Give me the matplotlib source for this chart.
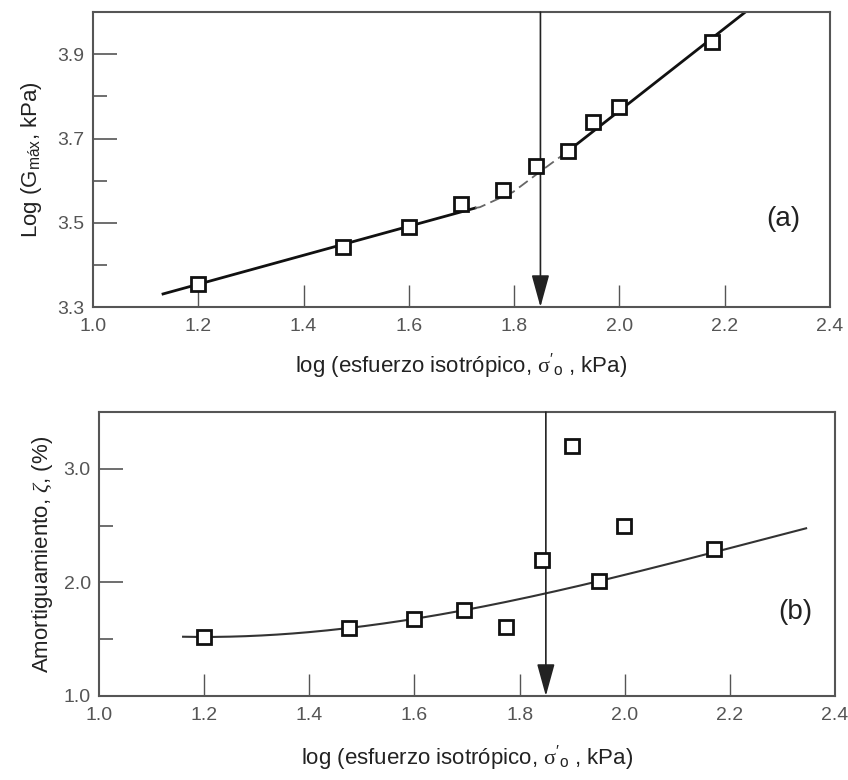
import numpy as np
import matplotlib
matplotlib.use('Agg')
import matplotlib.pyplot as plt

plt.rcParams['font.family'] = ['Liberation Sans', 'DejaVu Sans']
plt.rcParams['mathtext.fontset'] = 'custom'
plt.rcParams['mathtext.rm'] = 'Liberation Sans'
plt.rcParams['mathtext.sf'] = 'Liberation Serif'
plt.rcParams['mathtext.it'] = 'Liberation Serif:italic'

# Measured points (log of isotropic stress vs log Gmax and damping)
x_pts = [1.200, 1.475, 1.600, 1.700, 1.778, 1.842, 1.903, 1.950, 1.999, 2.175]
gmax_pts = [3.355, 3.443, 3.490, 3.545, 3.578, 3.635, 3.671, 3.739, 3.775, 3.930]
damp_x = [1.200, 1.475, 1.600, 1.695, 1.775, 1.842, 1.900, 1.951, 1.998, 2.170]
damp_pts = [1.52, 1.60, 1.68, 1.76, 1.61, 2.20, 3.20, 2.01, 2.50, 2.29]

# Trend lines for Gmax: two straight segments joined by a dashed transition
low_line_x = [1.133, 1.726]
low_line_y = [3.331, 3.535]
high_line_x = [1.893, 2.239]
high_line_y = [3.661, 4.000]
trans_x = [1.726, 1.735, 1.798, 1.849, 1.887, 1.893]
trans_y = [3.535, 3.537, 3.573, 3.621, 3.656, 3.661]

# Damping trend curve nodes
damp_curve_x = [1.16, 1.20, 1.30, 1.40, 1.50, 1.60, 1.70, 1.85, 1.95, 2.17, 2.345]
damp_curve_y = [1.52, 1.515, 1.535, 1.57, 1.62, 1.675, 1.75, 1.90, 2.01, 2.28, 2.47]

sigma_yield = 1.85

x_ticks = [1.0, 1.2, 1.4, 1.6, 1.8, 2.0, 2.2, 2.4]
g_ticks = [3.3, 3.5, 3.7, 3.9]
g_minor = [3.4, 3.6, 3.8]
d_ticks = [1.0, 2.0, 3.0]
d_minor = [1.5, 2.5]

frame_col = '#555555'
label_col = '#555555'
xlabel = r"log (esfuerzo isotrópico, $\mathsf{σ}'_{\rm o}$ , kPa)"


def style_axes(ax, ylim, yticks, yminor):
    ax.set_xlim(1.0, 2.4)
    ax.set_ylim(*ylim)
    ax.set_xticks(x_ticks)
    ax.set_xticklabels(['%.1f' % v for v in x_ticks])
    ax.set_yticks(yticks)
    ax.set_yticklabels(['%.1f' % v for v in yticks])
    ax.set_yticks(yminor, minor=True)
    ax.tick_params(axis='x', direction='in', length=16, width=1.0, color=frame_col,
                   labelsize=14, labelcolor=label_col, pad=8)
    ax.tick_params(axis='y', which='major', direction='in', length=17, width=1.2,
                   color=frame_col, labelsize=14, labelcolor=label_col, pad=6)
    ax.tick_params(axis='y', which='minor', direction='in', length=10, width=1.2,
                   color=frame_col)
    # the end ticks sit on the frame, hide them
    ax.xaxis.get_major_ticks()[0].tick1line.set_visible(False)
    ax.xaxis.get_major_ticks()[-1].tick1line.set_visible(False)
    ax.yaxis.get_major_ticks()[0].tick1line.set_visible(False)
    for s in ax.spines.values():
        s.set_color(frame_col)
        s.set_linewidth(1.5)


def draw_arrow(ax):
    y0, y1 = ax.get_ylim()
    ax.annotate('', xy=(sigma_yield, y0), xytext=(sigma_yield, y1),
                arrowprops=dict(arrowstyle='-|>,head_length=2.0,head_width=0.55',
                                color='#222222', lw=1.2, shrinkA=0, shrinkB=0,
                                facecolor='black'))


fig = plt.figure(figsize=(8.48, 7.8), dpi=100)

# (a) Gmax
ax1 = fig.add_axes([0.1097, 0.6064, 0.869, 0.378])
ax1.plot(low_line_x, low_line_y, color='#111111', lw=2.0)
ax1.plot(high_line_x, high_line_y, color='#111111', lw=2.0)
ax1.plot(trans_x, trans_y, color='#666666', lw=1.3, ls=(0, (6, 3)))
ax1.plot(x_pts, gmax_pts, ls='none', marker='s', ms=9.5, mfc='white',
         mec='#111111', mew=2.0, zorder=4)
style_axes(ax1, (3.3, 4.0), g_ticks, g_minor)
draw_arrow(ax1)
ax1.text(2.311, 3.51, '(a)', fontsize=20, ha='center', va='center', color='#222222')
ax1.set_xlabel(xlabel, fontsize=16, color='#222222', labelpad=12)
ax1.set_ylabel(r'Log (G$_{\rm máx}$, kPa)', fontsize=16, color='#222222', labelpad=10)

# (b) damping
ax2 = fig.add_axes([0.1167, 0.1077, 0.868, 0.364])
cx = np.linspace(damp_curve_x[0], damp_curve_x[-1], 200)
coef = np.polyfit(damp_curve_x, damp_curve_y, 3)
ax2.plot(cx, np.polyval(coef, cx), color='#333333', lw=1.5)
ax2.plot(damp_x, damp_pts, ls='none', marker='s', ms=9.5, mfc='white',
         mec='#111111', mew=2.0, zorder=4)
style_axes(ax2, (1.0, 3.5), d_ticks, d_minor)
draw_arrow(ax2)
ax2.text(2.325, 1.74, '(b)', fontsize=20, ha='center', va='center', color='#222222')
ax2.set_xlabel(xlabel, fontsize=16, color='#222222', labelpad=14)
ax2.set_ylabel(r'Amortiguamiento, $\zeta$, (%)', fontsize=16, color='#222222', labelpad=6)

fig.savefig('out.png', dpi=100)
